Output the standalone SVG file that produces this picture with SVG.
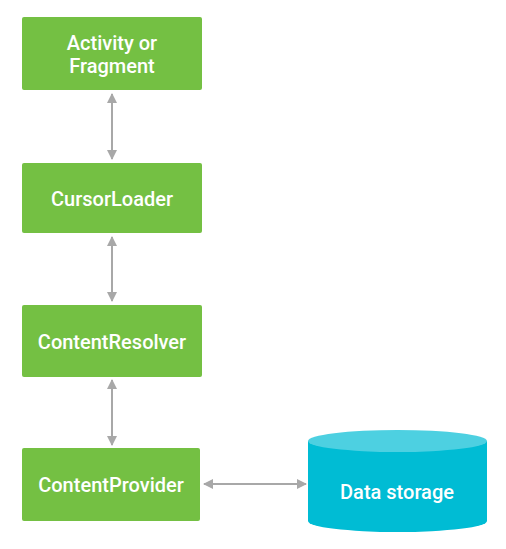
<svg xmlns="http://www.w3.org/2000/svg" width="506" height="549" viewBox="0 0 506 549">
<style>
.box{fill:#74c043;}
.lbl{font-family:Roboto,"Liberation Sans",sans-serif;font-weight:500;font-size:20px;fill:#ffffff;text-anchor:middle;}
.con{stroke:#a8a8a8;stroke-width:2;fill:none;marker-start:url(#ah);marker-end:url(#ah);}
</style>
<defs>
<marker id="ah" viewBox="0 0 10 10" refX="9" refY="5" markerWidth="5" markerHeight="5" orient="auto-start-reverse" markerUnits="strokeWidth">
<path d="M0,0 L10,5 L0,10 z" fill="#a8a8a8"/>
</marker>
</defs>
<rect width="506" height="549" fill="#ffffff"/>
<g id="connectors">
<line class="con" x1="112" y1="94" x2="112" y2="159"/>
<line class="con" x1="112" y1="237" x2="112" y2="301"/>
<line class="con" x1="112" y1="380" x2="112" y2="445"/>
<line class="con" x1="204" y1="484" x2="306" y2="484"/>
</g>
<g id="activity">
<rect class="box" x="22" y="17" width="180" height="73" rx="2"/>
<text class="lbl" x="112" y="50">Activity or</text>
<text class="lbl" x="112" y="73">Fragment</text>
</g>
<g id="cursorloader">
<rect class="box" x="22" y="163" width="180" height="70" rx="2"/>
<text class="lbl" x="112" y="206">CursorLoader</text>
</g>
<g id="contentresolver">
<rect class="box" x="22" y="305" width="180" height="72" rx="2"/>
<text class="lbl" x="112" y="349">ContentResolver</text>
</g>
<g id="contentprovider">
<rect class="box" x="22" y="448" width="178" height="73" rx="2"/>
<text class="lbl" x="111" y="492">ContentProvider</text>
</g>
<g id="datastorage">
<path d="M308,441 L308,521 A89.5,11 0 0 0 487,521 L487,441 Z" fill="#00bcd4"/>
<ellipse cx="397.5" cy="441" rx="89.5" ry="11" fill="#4dd0e1"/>
<text class="lbl" x="397" y="499">Data storage</text>
</g>
</svg>
